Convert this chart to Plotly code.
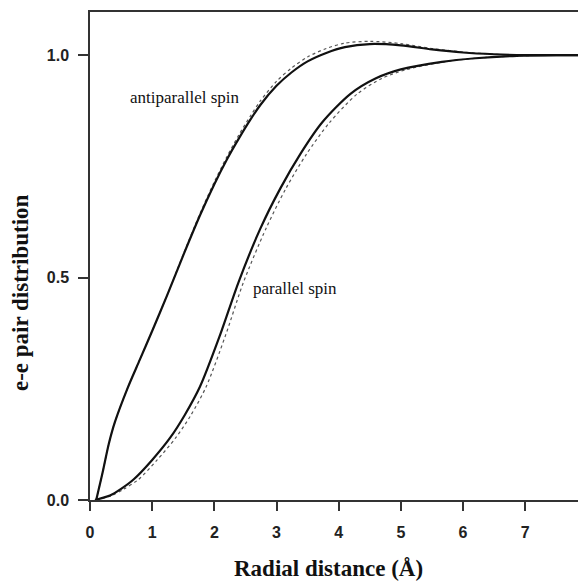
import plotly.graph_objects as go

# Antiparallel spin (solid = calculated, dotted = reference)
anti_x = [0.10, 0.20, 0.30, 0.40, 0.60, 0.80, 1.00, 1.24, 1.50, 1.77, 2.00, 2.20, 2.40, 2.58,
          2.74, 3.00, 3.24, 3.50, 3.80, 4.10, 4.50, 5.00, 5.50, 6.00, 6.50, 7.00, 7.50, 7.90]
anti_y = [0.0, 0.06, 0.125, 0.175, 0.25, 0.315, 0.38, 0.46, 0.55, 0.64, 0.71, 0.765, 0.814, 0.855,
          0.888, 0.931, 0.961, 0.986, 1.005, 1.018, 1.025, 1.022, 1.013, 1.006, 1.002, 1.0, 1.0, 1.0]
anti_dot_y = [0.0, 0.06, 0.125, 0.175, 0.25, 0.315, 0.38, 0.46, 0.552, 0.644, 0.715, 0.771, 0.822, 0.863,
              0.897, 0.941, 0.971, 0.996, 1.015, 1.027, 1.031, 1.026, 1.015, 1.007, 1.002, 1.0, 1.0, 1.0]

# Parallel spin
par_x = [0.08, 0.32, 0.50, 0.70, 1.00, 1.29, 1.52, 1.77, 2.09, 2.39, 2.74, 3.06, 3.38,
         3.73, 4.19, 4.60, 5.00, 5.66, 6.20, 6.80, 7.50, 7.90]
par_y = [0.0, 0.01, 0.025, 0.046, 0.09, 0.14, 0.19, 0.255, 0.37, 0.49, 0.61, 0.70, 0.777,
         0.848, 0.913, 0.948, 0.968, 0.985, 0.993, 0.998, 1.0, 1.0]
par_dot_x = [0.10, 0.35, 0.55, 0.78, 1.08, 1.38, 1.62, 1.87, 2.18, 2.47, 2.83, 3.15, 3.48,
             3.85, 4.30, 4.70, 5.10, 5.70, 6.20, 6.80, 7.50, 7.90]

x_ticks = [0, 1, 2, 3, 4, 5, 6, 7]
y_ticks = [0.0, 0.5, 1.0]
y_tick_text = ["0.0", "0.5", "1.0"]

W, H = 578, 583
L, R, T, B = 90, 0, 12, 83
pw, ph = W - L - R, H - T - B

def px_to_paper(px, py):
    return (px - L) / pw, (H - B - py) / ph

fig = go.Figure()
fig.add_trace(go.Scatter(x=anti_x, y=anti_dot_y, mode="lines",
                         line=dict(color="#555", width=1.2, dash="dot", shape="spline", smoothing=0.8), showlegend=False))
fig.add_trace(go.Scatter(x=par_dot_x, y=par_y, mode="lines",
                         line=dict(color="#555", width=1.2, dash="dot", shape="spline", smoothing=0.8), showlegend=False))
fig.add_trace(go.Scatter(x=anti_x, y=anti_y, mode="lines",
                         line=dict(color="#111", width=2.2, shape="spline", smoothing=0.8), showlegend=False))
fig.add_trace(go.Scatter(x=par_x, y=par_y, mode="lines",
                         line=dict(color="#111", width=2.2, shape="spline", smoothing=0.8), showlegend=False))

fig.add_annotation(x=1.53, y=0.905, xref="x", yref="y", text="antiparallel spin", showarrow=False,
                   font=dict(family="Liberation Serif", size=17, color="#111"))
fig.add_annotation(x=3.30, y=0.475, xref="x", yref="y", text="parallel spin", showarrow=False,
                   font=dict(family="Liberation Serif", size=17, color="#111"))

tick_font = dict(family="Liberation Sans", size=16, color="#222", weight="bold")
fig.update_layout(
    width=W, height=H,
    margin=dict(l=L, r=R, t=T, b=B),
    plot_bgcolor="white", paper_bgcolor="white",
    xaxis=dict(range=[0, 7.85], tickvals=x_ticks, ticks="outside", ticklen=9, tickwidth=1.5,
               tickcolor="#333", showline=True, linecolor="#333", linewidth=1.5, mirror=True,
               showgrid=False, zeroline=False, tickfont=tick_font, ticklabelstandoff=8),
    yaxis=dict(range=[0, 1.097], tickvals=y_ticks, ticktext=y_tick_text, ticks="outside", ticklen=10,
               tickwidth=1.5, tickcolor="#333", showline=True, linecolor="#333", linewidth=1.5,
               showgrid=False, zeroline=False, tickfont=tick_font, ticklabelstandoff=6),
)
xt = px_to_paper(328, 568)
fig.add_annotation(x=xt[0], y=xt[1], xref="paper", yref="paper", text="<b>Radial distance (Å)</b>",
                   showarrow=False, xanchor="center", yanchor="middle",
                   font=dict(family="Liberation Serif", size=23, color="#111"))
yt = px_to_paper(20, 293)
fig.add_annotation(x=yt[0], y=yt[1], xref="paper", yref="paper", text="<b>e-e pair distribution</b>",
                   showarrow=False, textangle=-90, xanchor="center", yanchor="middle",
                   font=dict(family="Liberation Serif", size=23, color="#111"))
fig.write_html("out.html")
